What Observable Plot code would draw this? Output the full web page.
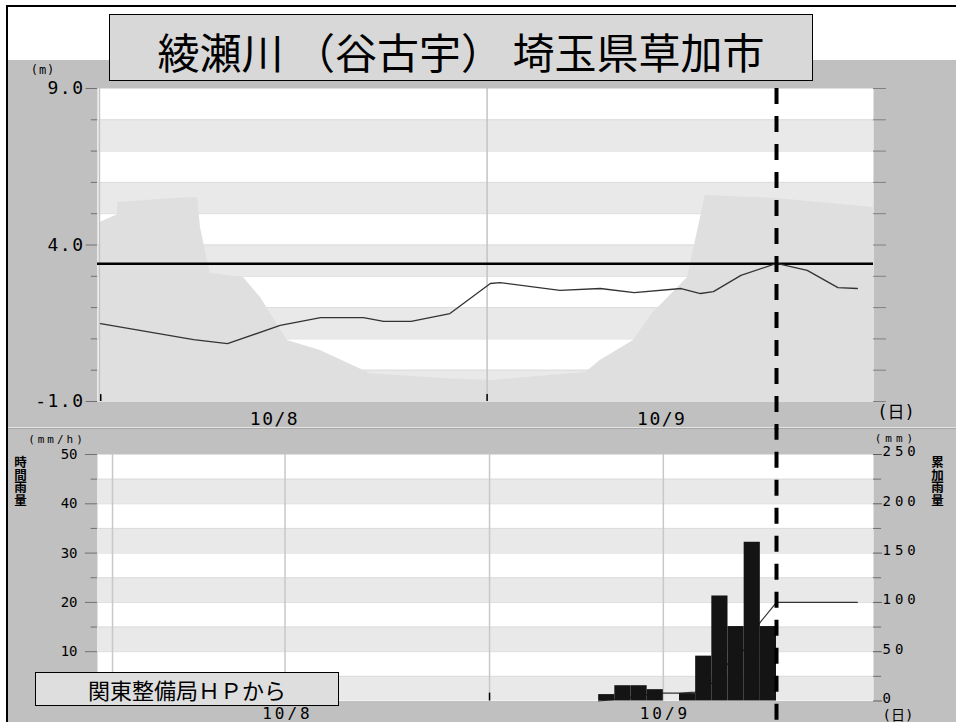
<!DOCTYPE html>
<html><head><meta charset="utf-8">
<script src="https://cdn.jsdelivr.net/npm/d3@7"></script>
<script src="https://cdn.jsdelivr.net/npm/@observablehq/plot@0.6"></script>
<style>
html,body{margin:0;padding:0;background:#fff;overflow:hidden;}
#root{position:relative;width:956px;height:722px;overflow:hidden;background:#fff;}
.abs{position:absolute;}
#frameL{left:6px;top:5px;width:2px;height:717px;background:#000;}
#frameT{left:6px;top:5px;width:950px;height:2px;background:#000;}
#panel{left:8px;top:60px;width:948px;height:662px;background:#c0c0c0;}
#sep1{left:8px;top:427px;width:948px;height:1px;background:#e4e4e4;}
#sep2{left:8px;top:428px;width:948px;height:1px;background:#a8a8a8;}
#title{left:109px;top:14px;width:702px;height:65px;background:#d8d8d8;border:1px solid #000;font-family:"Noto Sans CJK JP";font-size:42px;line-height:65px;text-align:center;color:#000;white-space:nowrap;}
#title span{position:relative;top:3px;}
#caption{left:35px;top:672px;width:302px;height:32px;background:#dedede;border:1px solid #000;font-family:"Noto Sans CJK JP";font-size:22px;line-height:32px;text-align:center;color:#000;white-space:nowrap;}
.vlab{font-family:"Noto Sans CJK JP";font-size:12.5px;font-weight:bold;writing-mode:vertical-rl;line-height:15px;color:#000;}
.unit{font-family:"DejaVu Sans Mono","Noto Sans CJK JP";white-space:nowrap;transform:translate(-50%,-50%);color:#000;line-height:1;}
.plotwrap{position:absolute;left:0;}
</style>
</head><body>
<div id="root">
  <div class="abs" id="frameL"></div>
  <div class="abs" id="frameT"></div>
  <div class="abs" id="panel"></div>
  <div class="abs" id="sep1"></div>
  <div class="abs" id="sep2"></div>
  <div class="plotwrap" id="topChart" style="top:60px"></div>
  <div class="plotwrap" id="bottomChart" style="top:430px"></div>
  <div class="abs" id="title"><span>綾瀬川 （谷古宇） 埼玉県草加市</span></div>
  <div class="abs unit" style="left:43px;top:70px;font-size:12px;letter-spacing:1px;">(m)</div>
  <div class="abs unit" style="left:896px;top:412px;font-size:17px;">(日)</div>
  <div class="abs unit" style="left:57px;top:439px;font-size:11px;letter-spacing:3px;">(mm/h)</div>
  <div class="abs unit" style="left:896px;top:438px;font-size:11px;letter-spacing:4px;">(mm)</div>
  <div class="abs unit" style="left:898px;top:715px;font-size:14px;">(日)</div>
  <div class="abs vlab" style="left:13px;top:456px;">時間雨量</div>
  <div class="abs vlab" style="left:930px;top:456px;">累加雨量</div>
  <div class="abs" id="caption">関東整備局ＨＰから</div>
</div>
<script>
// ---------- shared time axis (hours from 10/8 0:00) ----------
const hourDomain = [0, 48];
const nowHour = 42;

// ---------- water level chart ----------
const levelDomain = [-1, 9];
const levelBands = [[7, 8], [5, 6], [3, 4], [1, 2], [-1, 0]];
const levelBandEdges = [8, 7, 6, 5, 4, 3, 2, 1, 0];
const levelMajorTicks = [9, 4, -1];
const levelMinorTicks = [8, 7, 6, 5, 3, 2, 1, 0];
const levelRightTicks = [9, 8, 7, 6, 5, 4, 3, 2, 1, 0, -1];
const topGridHours = [0.12, 24.1];
const topTickHours = [0.2, 24.1];
const topDayLabels = ["10/8", "10/9"];
const topLabelHours = [10.95, 34.9];
const warningLevel = 3.4;

const levelHours  = [0.19, 5.94, 8.04, 11.3, 13.8, 16.45, 17.7, 19.4, 21.8, 24.3, 24.9, 28.6, 31.1, 33.2, 36.1, 37.3, 38.1, 39.8, 42.0, 43.9, 45.8, 47.0];
const levelValues = [1.49, 0.98, 0.85, 1.43, 1.68, 1.68, 1.56, 1.56, 1.81, 2.77, 2.80, 2.55, 2.61, 2.48, 2.61, 2.45, 2.51, 3.03, 3.41, 3.19, 2.64, 2.61];

const shadeHours  = [0.15, 1.24, 1.25, 4.95, 6.19, 6.37, 6.8, 6.99, 9.03, 10.08, 10.7, 11.75, 13.79, 16.89, 21.65, 24.3, 30.2, 31.1, 33.15, 34.33, 36.5, 37.3, 37.6, 41.8, 48];
const shadeValues = [4.72, 4.97, 5.36, 5.49, 5.52, 4.56, 3.5, 3.09, 2.96, 2.32, 1.81, 0.95, 0.63, -0.11, -0.27, -0.33, -0.07, 0.31, 0.95, 1.81, 2.96, 4.88, 5.58, 5.49, 5.2];

// ---------- rainfall chart ----------
const rainDomain = [0, 50];
const cumDomain = [0, 250];
const rainBands = [[40, 45], [30, 35], [20, 25], [10, 15], [0, 5]];
const rainBandEdges = [45, 40, 35, 30, 25, 20, 15, 10, 5];
const rainMajorTicks = [50, 40, 30, 20, 10, 0];
const rainMinorTicks = [45, 35, 25, 15, 5];
const cumMajorTicks = [250, 200, 150, 100, 50, 0];
const cumMinorTicks = [225, 175, 125, 75, 25];
const rainGridHours = [0.93, 11.6, 24.25, 35.0];
const rainTickHours = [24.25];
const rainDayLabels = ["10/8", "10/9"];
const rainLabelHours = [11.75, 35.1];

const rainHours  = [31, 32, 33, 34, 36, 37, 38, 39, 40, 41];
const rainValues = [1.3, 3.1, 3.1, 2.3, 1.5, 9.1, 21.3, 15.1, 32.2, 15.1];

const cumHours  = [31, 32, 33, 34, 35, 36, 37, 38, 39, 40, 41, 42, 47];
const cumValues = [0, 1.5, 4, 6.5, 8, 8, 9, 18, 38, 52, 80, 100, 100];

// ---------- tables built from the arrays ----------
const level = levelHours.map((h, i) => ({h, v: levelValues[i]}));
const shade = shadeHours.map((h, i) => ({h, v: shadeValues[i]}));
const rain = rainHours.map((h, i) => ({h, v: rainValues[i]}));
const cum = cumHours.map((h, i) => ({h, mm: cumValues[i]}));
const cumToRain = rainDomain[1] / cumDomain[1];

const F_TOP = "DejaVu Sans Mono";
const F_LEFT = "DejaVu Sans Mono, mono";
const F_RIGHT = "DejaVu Sans Mono, monospace";
const F_DAY = "DejaVu Sans Mono, Liberation Mono";

const topPlot = Plot.plot({
  width: 956, height: 368,
  marginLeft: 97, marginRight: 83, marginTop: 28, marginBottom: 27,
  x: {domain: hourDomain, axis: null},
  y: {domain: levelDomain, axis: null},
  style: {background: "transparent", overflow: "visible", letterSpacing: "1.5px", color: "#000"},
  marks: [
    Plot.frame({fill: "#fff", stroke: "none"}),
    Plot.rect(levelBands, {x1: hourDomain[0], x2: hourDomain[1], y1: d => d[0], y2: d => d[1], fill: "#e9e9e9"}),
    Plot.ruleY(levelBandEdges, {x1: hourDomain[0], x2: hourDomain[1], stroke: "#dcdcdc", strokeWidth: 1}),
    Plot.areaY(shade, {x: "h", y1: levelDomain[0], y2: "v", fill: "#dfdfdf"}),
    Plot.ruleX(topGridHours, {y1: levelDomain[0], y2: levelDomain[1], stroke: "#c4c4c4", strokeWidth: 1.5}),
    Plot.ruleY([warningLevel], {x1: hourDomain[0], x2: hourDomain[1], stroke: "#000", strokeWidth: 2.5}),
    Plot.line(level, {x: "h", y: "v", stroke: "#333", strokeWidth: 1.3}),
    Plot.ruleX(topTickHours, {y1: levelDomain[0], y2: levelDomain[0] + 0.22, stroke: "#000", strokeWidth: 1.5}),
    Plot.ruleY(levelMajorTicks, {x1: -0.7, x2: 0, stroke: "#707070"}),
    Plot.ruleY(levelMinorTicks, {x1: -0.38, x2: 0, stroke: "#707070"}),
    Plot.text(levelMajorTicks, {x: 0, y: d => d, text: d => d.toFixed(1), dx: -13, textAnchor: "end", fontSize: 18, fontFamily: F_TOP}),
    Plot.ruleY(levelRightTicks, {x1: 48, x2: 48.8, stroke: "#808080"}),
    Plot.text(topDayLabels, {x: (d, i) => topLabelHours[i], y: levelDomain[0], dy: 18, text: d => d, fontSize: 18, fontFamily: F_TOP}),
    Plot.ruleX([nowHour], {y1: levelDomain[1], y2: -1.9, stroke: "#000", strokeWidth: 4, strokeDasharray: "16,12"})
  ]
});
document.getElementById("topChart").appendChild(topPlot);

const bottomPlot = Plot.plot({
  width: 956, height: 292,
  marginLeft: 97, marginRight: 83, marginTop: 24, marginBottom: 21.5,
  x: {domain: hourDomain, axis: null},
  y: {domain: rainDomain, axis: null},
  style: {background: "transparent", overflow: "visible", color: "#000"},
  marks: [
    Plot.frame({fill: "#fff", stroke: "none"}),
    Plot.rect(rainBands, {x1: hourDomain[0], x2: hourDomain[1], y1: d => d[0], y2: d => d[1], fill: "#e9e9e9"}),
    Plot.ruleY(rainBandEdges, {x1: hourDomain[0], x2: hourDomain[1], stroke: "#dcdcdc", strokeWidth: 1}),
    Plot.ruleX(rainGridHours, {y1: rainDomain[0], y2: rainDomain[1], stroke: "#c8c8c8", strokeWidth: 1.5}),
    Plot.line(cum, {x: "h", y: d => d.mm * cumToRain, stroke: "#333", strokeWidth: 1.2}),
    Plot.rect(rain, {x1: "h", x2: d => d.h + 1, y1: rainDomain[0], y2: "v", fill: "#141414"}),
    Plot.ruleX(rainTickHours, {y1: rainDomain[0], y2: 1.6, stroke: "#000", strokeWidth: 1.5}),
    Plot.ruleY(rainMajorTicks, {x1: -0.75, x2: 0, stroke: "#707070"}),
    Plot.ruleY(rainMinorTicks, {x1: -0.4, x2: 0, stroke: "#707070"}),
    Plot.text(rainMajorTicks, {x: 0, y: d => d, text: d => String(d), dx: -20, textAnchor: "end", fontSize: 14, fontFamily: F_LEFT}),
    Plot.ruleY(cumMajorTicks, {x1: 48, x2: 48.55, y: d => d * cumToRain, stroke: "#606060"}),
    Plot.ruleY(cumMinorTicks, {x1: 48, x2: 48.5, y: d => d * cumToRain, stroke: "#707070"}),
    Plot.text(cumMajorTicks, {x: 48, y: d => d * cumToRain, text: d => String(d), dx: 9, dy: -2.5, textAnchor: "start", fontSize: 14, fontFamily: F_RIGHT}),
    Plot.text(rainDayLabels, {x: (d, i) => rainLabelHours[i], y: rainDomain[0], dy: 12.5, text: d => d, fontSize: 16, fontFamily: F_DAY}),
    Plot.ruleX([nowHour], {y1: 55.3, y2: -4.5, stroke: "#000", strokeWidth: 4, strokeDasharray: "16,12", strokeDashoffset: 4})
  ]
});
document.getElementById("bottomChart").appendChild(bottomPlot);

// per-group letter spacing to imitate the wide bitmap digits
bottomPlot.querySelectorAll("g").forEach(g => {
  const f = g.getAttribute("font-family");
  if (f === F_RIGHT) g.style.letterSpacing = "4px";
  if (f === F_DAY) g.style.letterSpacing = "3px";
});
</script>
</body></html>
